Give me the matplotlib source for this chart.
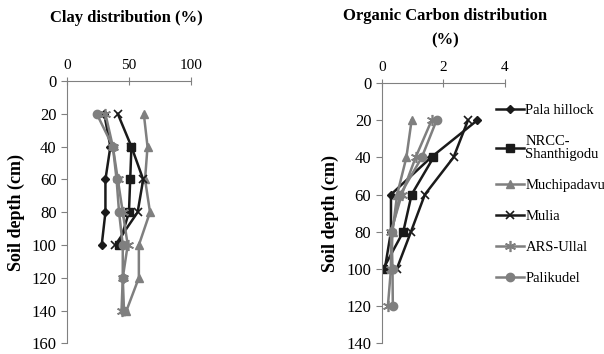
import matplotlib
matplotlib.use('Agg')
import matplotlib.pyplot as plt

matplotlib.rc('font', family='Liberation Serif', size=10)

# clay distribution (%) per site, depths in cm
clay_depth = {
    'Pala hillock': [20, 40, 60, 80, 100],
    'NRCC-\nShanthigodu': [40, 60, 80, 100],
    'Muchipadavu': [20, 40, 60, 80, 100, 120, 140],
    'Mulia': [20, 40, 60, 80, 100],
    'ARS-Ullal': [20, 40, 60, 80, 100, 120, 140],
    'Palikudel': [20, 40, 60, 80, 100, 120, 140],
}
clay_vals = {
    'Pala hillock': [30, 35, 31, 31, 28],
    'NRCC-\nShanthigodu': [52, 51, 50, 42],
    'Muchipadavu': [62, 65, 63, 67, 58, 58, 48],
    'Mulia': [41, 52, 61.5, 57, 39],
    'ARS-Ullal': [31, 37, 41, 45, 49, 45, 44],
    'Palikudel': [24, 37, 40, 42, 45, 45, 46],
}

# organic carbon distribution (%)
oc_depth = {
    'Pala hillock': [20, 40, 60, 80, 100],
    'NRCC-\nShanthigodu': [40, 60, 80, 100],
    'Muchipadavu': [20, 40, 60, 80, 100],
    'Mulia': [20, 40, 60, 80, 100],
    'ARS-Ullal': [20, 40, 60, 80, 100, 120],
    'Palikudel': [20, 40, 60, 80, 100, 120],
}
oc_vals = {
    'Pala hillock': [3.1, 1.6, 0.3, 0.3, 0.1],
    'NRCC-\nShanthigodu': [1.68, 0.97, 0.7, 0.05],
    'Muchipadavu': [0.97, 0.8, 0.5, 0.35, 0.3],
    'Mulia': [2.8, 2.33, 1.4, 0.95, 0.49],
    'ARS-Ullal': [1.62, 1.1, 0.65, 0.3, 0.3, 0.2],
    'Palikudel': [1.78, 1.3, 0.6, 0.32, 0.35, 0.36],
}

dark = '#1a1a1a'
grey = '#7f7f7f'
styles = {
    'Pala hillock': dict(color=dark, marker='D', ms=4),
    'NRCC-\nShanthigodu': dict(color=dark, marker='s', ms=6),
    'Muchipadavu': dict(color=grey, marker='^', ms=6),
    'Mulia': dict(color=dark, marker='x', ms=6, mew=1.2),
    'ARS-Ullal': dict(color=grey, marker=(6, 2, 0), ms=8, mew=1.2),
    'Palikudel': dict(color=grey, marker='o', ms=6),
}

spine_col = '#808080'


def style_axes(ax, xmax, ymax, xticks):
    ax.set_xlim(0, xmax)
    ax.set_ylim(ymax, 0)
    ax.set_xticks(xticks)
    ax.set_yticks(range(0, ymax + 1, 20))
    ax.xaxis.tick_top()
    ax.spines['bottom'].set_visible(False)
    ax.spines['right'].set_visible(False)
    ax.spines['left'].set_color(spine_col)
    ax.spines['top'].set_color(spine_col)
    ax.tick_params(axis='y', direction='out', length=4, color=spine_col, labelsize=12)
    ax.tick_params(axis='x', direction='inout', length=6, color=spine_col, labelsize=11)
    ax.set_ylabel('Soil depth (cm)', fontsize=13, fontweight='bold', labelpad=5)


fig = plt.figure(figsize=(6.04, 3.54), dpi=100)
ax1 = fig.add_axes([0.111, 0.03, 0.205, 0.741])
ax2 = fig.add_axes([0.632, 0.031, 0.204, 0.734])

for name in clay_vals:
    ax1.plot(clay_vals[name], clay_depth[name], lw=1.8, **styles[name])
handles = []
for name in oc_vals:
    h, = ax2.plot(oc_vals[name], oc_depth[name], lw=1.8, label=name, **styles[name])
    handles.append(h)

style_axes(ax1, 100, 160, [0, 50, 100])
style_axes(ax2, 4, 140, [0, 2, 4])

fig.text(0.21, 0.95, 'Clay distribution (%)', ha='center', va='center',
         fontsize=12, fontweight='bold')
fig.text(0.737, 0.955, 'Organic Carbon distribution', ha='center', va='center',
         fontsize=12, fontweight='bold')
fig.text(0.737, 0.885, '(%)', ha='center', va='center',
         fontsize=12, fontweight='bold')

leg = fig.legend(handles=handles, loc='upper left', bbox_to_anchor=(0.812, 0.722),
                 frameon=False, fontsize=10.5, handlelength=1.9, handletextpad=0.1,
                 labelspacing=1.22, borderaxespad=0)
leg.get_texts()[1].set_linespacing(0.95)

plt.savefig('out.png', dpi=100)
